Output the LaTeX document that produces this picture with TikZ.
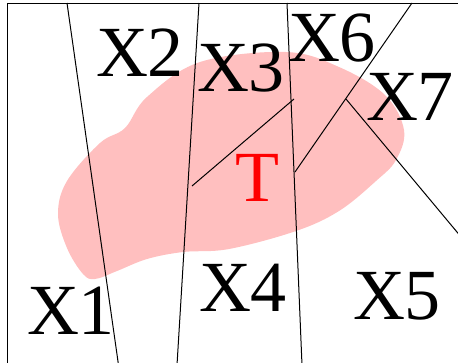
\documentclass[tikz,border=0pt]{standalone}
\usepackage{fontspec}
\setmainfont{Liberation Serif}
\definecolor{blobpink}{RGB}{255,191,191}
\begin{document}
\begin{tikzpicture}[x=1pt,y=-1pt,
  lbl/.style={inner sep=0pt, font=\fontsize{72}{72}\selectfont},
  seg/.style={line width=1pt, black}]
\useasboundingbox (0,0) rectangle (458,362);
\clip (0,0) rectangle (458,362);
\fill[blobpink] plot[smooth cycle, tension=0.6] coordinates {
  (95,279) (83,274) (67,248) (58,214) (67,181) (100,143) (125,128) (147,97)
  (200,62) (286,52) (339,67) (385,95) (404,130) (396,160) (376,181)
  (339,211) (296,231) (229,249) (183,252) (147,259) (117,271)};
% frame
\draw[seg] (7,3) rectangle (480,400);
% coordinates
\coordinate (a1) at (67,3);   \coordinate (b1) at (118.5,365);
\coordinate (a2) at (199,3);  \coordinate (b2) at (177,365);
\coordinate (a3) at (287,3);  \coordinate (b3) at (302,365);
\coordinate (a4) at (412,3);  \coordinate (b4) at (295,172);
\coordinate (a5) at (192,186);\coordinate (b5) at (294,99);
\coordinate (a6) at (346,99); \coordinate (b6) at (472,250);
\draw[seg] (a1) -- (b1);
\draw[seg] (a2) -- (b2);
\draw[seg] (a3) -- (b3);
\draw[seg] (a4) -- (b4);
\draw[seg] (a5) -- (b5);
\draw[seg] (a6) -- (b6);
% labels
\node[lbl] (x1) at (71,311) {X1};
\node[lbl] (x2) at (140,53) {X2};
\node[lbl] (x3) at (241,68) {X3};
\node[lbl] (x4) at (243,288) {X4};
\node[lbl] (x5) at (397,296) {X5};
\node[lbl] (x6) at (332,38) {X6};
\node[lbl] (x7) at (410,97) {X7};
\node[lbl, text=red] (t) at (257,178) {T};
\end{tikzpicture}
\end{document}
